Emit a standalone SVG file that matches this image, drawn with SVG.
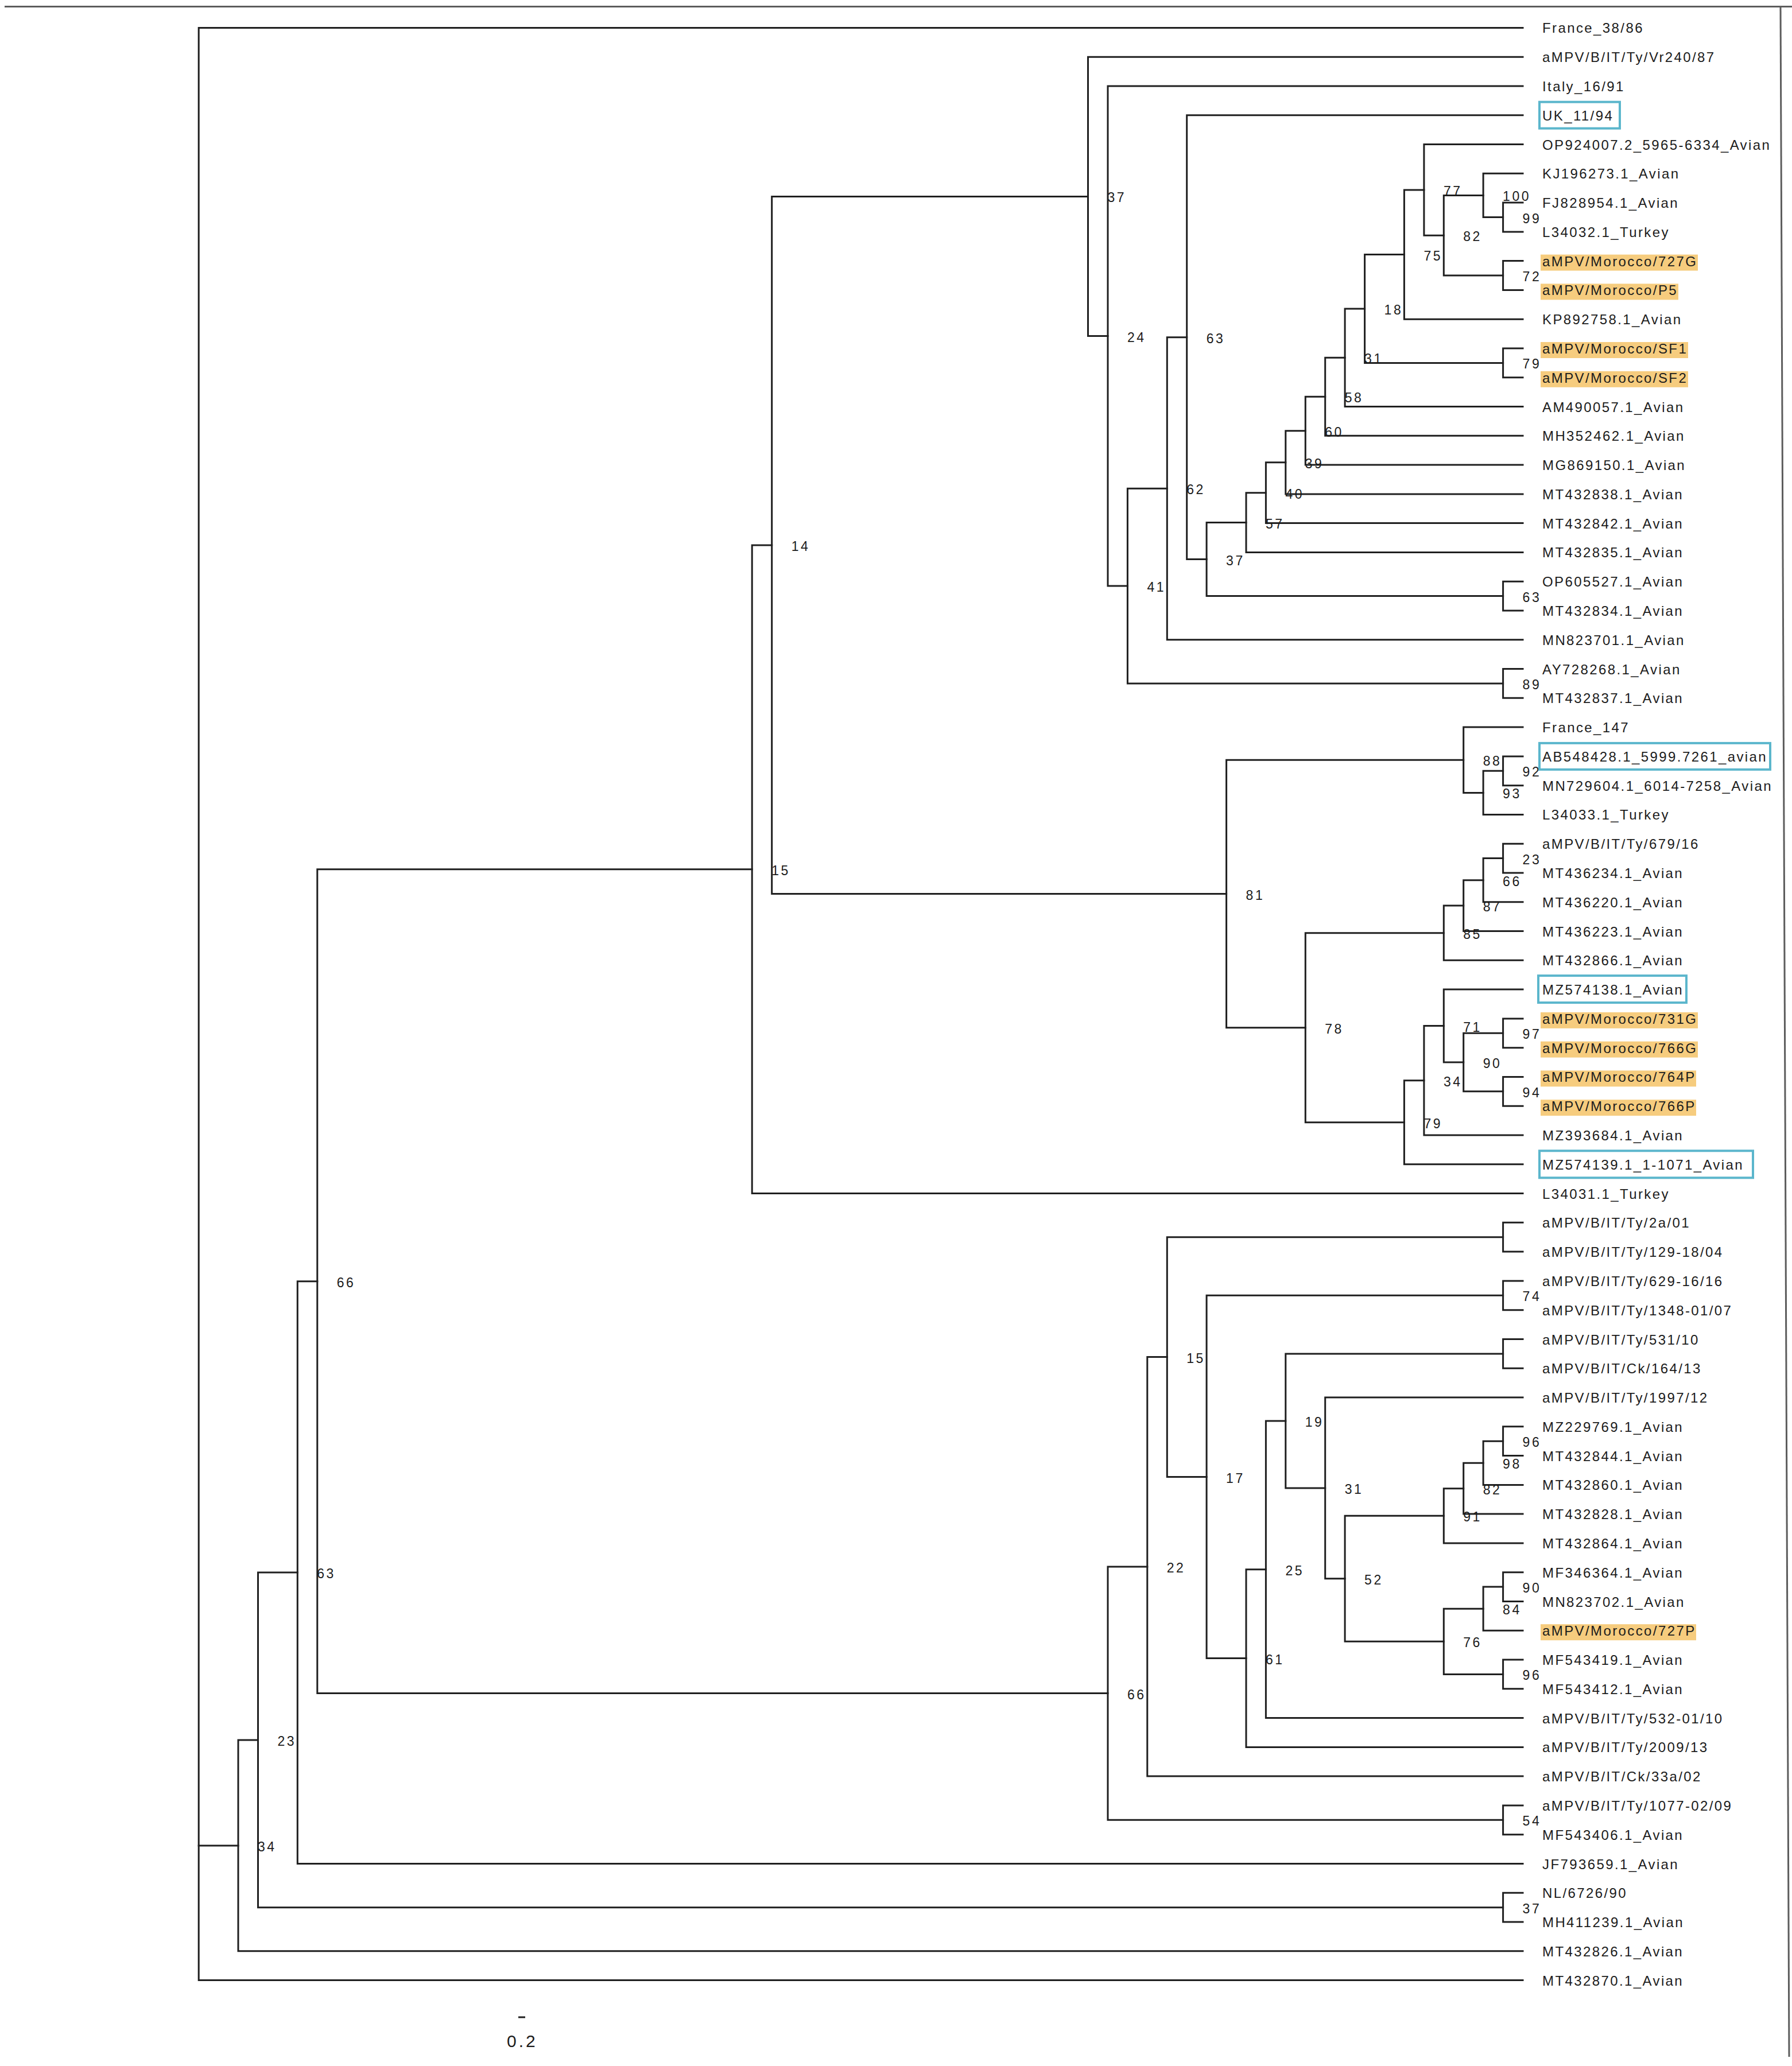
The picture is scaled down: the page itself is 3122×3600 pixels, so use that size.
<svg xmlns="http://www.w3.org/2000/svg" width="3122" height="3600" viewBox="0 0 3122 3600">
<style>
.br{fill:none;stroke:#1f1f1f;stroke-width:3;stroke-linecap:square}
.fr{fill:none;stroke:#5c5c5c;stroke-width:3}
text{font-family:"Liberation Sans",Arial,Helvetica,sans-serif;fill:#1c1c1c}
.lf{font-size:24px;letter-spacing:2.4px}
.bs{font-size:23px;letter-spacing:3.5px}
.hl{fill:#F6CC7E}
.bx{fill:none;stroke:#5BB6CC;stroke-width:4}
.sc{font-size:30px;letter-spacing:4px}
</style>
<rect width="3122" height="3600" fill="#ffffff"/>
<g id="frame">
<line class="fr" x1="8" y1="11.5" x2="3122" y2="11.5"/>
<line class="fr" x1="3102" y1="11.5" x2="3117" y2="3584" stroke-width="2.5"/>
</g>
<g id="branches">
<path class="br" d="M2653 353.1H2618.6V403.9H2653"/>
<path class="br" d="M2653 302.3H2584.1V378.5H2618.6"/>
<path class="br" d="M2653 454.6H2618.6V505.4H2653"/>
<path class="br" d="M2584.1 340.4H2515.3V480H2618.6"/>
<path class="br" d="M2653 251.5H2480.9V410.2H2515.3"/>
<path class="br" d="M2480.9 330.9H2446.4V556.2H2653"/>
<path class="br" d="M2653 607H2618.6V657.8H2653"/>
<path class="br" d="M2446.4 443.6H2377.6V632.4H2618.6"/>
<path class="br" d="M2377.6 538H2343.1V708.5H2653"/>
<path class="br" d="M2343.1 623.3H2308.7V759.3H2653"/>
<path class="br" d="M2308.7 691.3H2274.3V810.1H2653"/>
<path class="br" d="M2274.3 750.7H2239.8V860.9H2653"/>
<path class="br" d="M2239.8 805.8H2205.4V911.6H2653"/>
<path class="br" d="M2205.4 858.7H2171V962.4H2653"/>
<path class="br" d="M2653 1013.2H2618.6V1064H2653"/>
<path class="br" d="M2171 910.6H2102.1V1038.6H2618.6"/>
<path class="br" d="M2653 200.7H2067.7V974.6H2102.1"/>
<path class="br" d="M2067.7 587.7H2033.3V1114.8H2653"/>
<path class="br" d="M2653 1165.5H2618.6V1216.3H2653"/>
<path class="br" d="M2033.3 851.2H1964.4V1190.9H2618.6"/>
<path class="br" d="M2653 150H1930V1021.1H1964.4"/>
<path class="br" d="M2653 99.2H1895.5V585.5H1930"/>
<path class="br" d="M2653 1317.9H2618.6V1368.7H2653"/>
<path class="br" d="M2618.6 1343.3H2584.1V1419.4H2653"/>
<path class="br" d="M2653 1267.1H2549.7V1381.4H2584.1"/>
<path class="br" d="M2653 1470.2H2618.6V1521H2653"/>
<path class="br" d="M2618.6 1495.6H2584.1V1571.8H2653"/>
<path class="br" d="M2584.1 1533.7H2549.7V1622.6H2653"/>
<path class="br" d="M2549.7 1578.1H2515.3V1673.3H2653"/>
<path class="br" d="M2653 1774.9H2618.6V1825.7H2653"/>
<path class="br" d="M2653 1876.4H2618.6V1927.2H2653"/>
<path class="br" d="M2618.6 1800.3H2549.7V1901.8H2618.6"/>
<path class="br" d="M2653 1724.1H2515.3V1851.1H2549.7"/>
<path class="br" d="M2515.3 1787.6H2480.9V1978H2653"/>
<path class="br" d="M2480.9 1882.8H2446.4V2028.8H2653"/>
<path class="br" d="M2515.3 1625.7H2274.3V1955.8H2446.4"/>
<path class="br" d="M2549.7 1324.2H2136.6V1790.7H2274.3"/>
<path class="br" d="M1895.5 342.4H1344.7V1557.5H2136.6"/>
<path class="br" d="M1344.7 949.9H1310.2V2079.6H2653"/>
<path class="br" d="M2653 2130.3H2618.6V2181.1H2653"/>
<path class="br" d="M2653 2231.9H2618.6V2282.7H2653"/>
<path class="br" d="M2653 2333.5H2618.6V2384.2H2653"/>
<path class="br" d="M2653 2485.8H2618.6V2536.6H2653"/>
<path class="br" d="M2618.6 2511.2H2584.1V2587.4H2653"/>
<path class="br" d="M2584.1 2549.3H2549.7V2638.1H2653"/>
<path class="br" d="M2549.7 2593.7H2515.3V2688.9H2653"/>
<path class="br" d="M2653 2739.7H2618.6V2790.5H2653"/>
<path class="br" d="M2618.6 2765.1H2584.1V2841.2H2653"/>
<path class="br" d="M2653 2892H2618.6V2942.8H2653"/>
<path class="br" d="M2584.1 2803.2H2515.3V2917.4H2618.6"/>
<path class="br" d="M2515.3 2641.3H2343.1V2860.3H2515.3"/>
<path class="br" d="M2653 2435H2308.7V2750.8H2343.1"/>
<path class="br" d="M2618.6 2358.9H2239.8V2592.9H2308.7"/>
<path class="br" d="M2239.8 2475.9H2205.4V2993.6H2653"/>
<path class="br" d="M2205.4 2734.8H2171V3044.4H2653"/>
<path class="br" d="M2618.6 2257.3H2102.1V2889.6H2171"/>
<path class="br" d="M2618.6 2155.7H2033.3V2573.5H2102.1"/>
<path class="br" d="M2033.3 2364.6H1998.8V3095.1H2653"/>
<path class="br" d="M2653 3145.9H2618.6V3196.7H2653"/>
<path class="br" d="M1998.8 2729.9H1930V3171.3H2618.6"/>
<path class="br" d="M1310.2 1514.8H552.8V2950.6H1930"/>
<path class="br" d="M552.8 2232.7H518.3V3247.5H2653"/>
<path class="br" d="M2653 3298.3H2618.6V3349H2653"/>
<path class="br" d="M518.3 2740.1H449.5V3323.7H2618.6"/>
<path class="br" d="M449.5 3031.9H415V3399.8H2653"/>
<path class="br" d="M2653 48.4H346.2V3450.6H2653"/>
<path class="br" d="M346.2 3215.9H415"/>
</g>
<g id="support-values" class="bs">
<g id="n37a"><text x="1929.5" y="352.4">37</text></g>
<g id="n24a"><text x="1964" y="595.5">24</text></g>
<g id="n41"><text x="1998.4" y="1031.1">41</text></g>
<g id="n62"><text x="2067.3" y="861.2">62</text></g>
<g id="n63a"><text x="2101.7" y="597.7">63</text></g>
<g id="n37b"><text x="2136.1" y="984.6">37</text></g>
<g id="n57"><text x="2205" y="920.6">57</text></g>
<g id="n40"><text x="2239.4" y="868.7">40</text></g>
<g id="n39"><text x="2273.8" y="815.8">39</text></g>
<g id="n60"><text x="2308.3" y="760.7">60</text></g>
<g id="n58"><text x="2342.7" y="701.3">58</text></g>
<g id="n31a"><text x="2377.1" y="633.3">31</text></g>
<g id="n18"><text x="2411.6" y="548">18</text></g>
<g id="n75"><text x="2480.4" y="453.6">75</text></g>
<g id="n77"><text x="2514.9" y="340.9">77</text></g>
<g id="n82a"><text x="2549.3" y="420.2">82</text></g>
<g id="n100"><text x="2618.1" y="350.4">100</text></g>
<g id="n99"><text x="2652.6" y="388.5">99</text></g>
<g id="n72"><text x="2652.6" y="490">72</text></g>
<g id="n79a"><text x="2652.6" y="642.4">79</text></g>
<g id="n63b"><text x="2652.6" y="1048.6">63</text></g>
<g id="n89"><text x="2652.6" y="1200.9">89</text></g>
<g id="n14"><text x="1378.7" y="959.9">14</text></g>
<g id="n15a"><text x="1344.2" y="1524.8">15</text></g>
<g id="n81"><text x="2170.6" y="1567.5">81</text></g>
<g id="n88"><text x="2583.7" y="1334.2">88</text></g>
<g id="n93"><text x="2618.1" y="1391.4">93</text></g>
<g id="n92"><text x="2652.6" y="1353.3">92</text></g>
<g id="n78"><text x="2308.3" y="1800.7">78</text></g>
<g id="n85"><text x="2549.3" y="1635.7">85</text></g>
<g id="n87"><text x="2583.7" y="1588.1">87</text></g>
<g id="n66a"><text x="2618.1" y="1543.7">66</text></g>
<g id="n23a"><text x="2652.6" y="1505.6">23</text></g>
<g id="n79b"><text x="2480.4" y="1965.8">79</text></g>
<g id="n34a"><text x="2514.9" y="1892.8">34</text></g>
<g id="n71"><text x="2549.3" y="1797.6">71</text></g>
<g id="n90a"><text x="2583.7" y="1861.1">90</text></g>
<g id="n97"><text x="2652.6" y="1810.3">97</text></g>
<g id="n94"><text x="2652.6" y="1911.8">94</text></g>
<g id="n66b"><text x="586.8" y="2242.7">66</text></g>
<g id="n63c"><text x="552.3" y="2750.1">63</text></g>
<g id="n23b"><text x="483.5" y="3041.9">23</text></g>
<g id="n34b"><text x="449" y="3225.9">34</text></g>
<g id="n66c"><text x="1964" y="2960.6">66</text></g>
<g id="n22"><text x="2032.8" y="2739.9">22</text></g>
<g id="n15b"><text x="2067.3" y="2374.6">15</text></g>
<g id="n17"><text x="2136.1" y="2583.5">17</text></g>
<g id="n74"><text x="2652.6" y="2267.3">74</text></g>
<g id="n61"><text x="2205" y="2899.6">61</text></g>
<g id="n25"><text x="2239.4" y="2744.8">25</text></g>
<g id="n19"><text x="2273.8" y="2485.9">19</text></g>
<g id="n31b"><text x="2342.7" y="2602.9">31</text></g>
<g id="n52"><text x="2377.1" y="2760.8">52</text></g>
<g id="n91"><text x="2549.3" y="2651.3">91</text></g>
<g id="n82b"><text x="2583.7" y="2603.7">82</text></g>
<g id="n98"><text x="2618.1" y="2559.3">98</text></g>
<g id="n96a"><text x="2652.6" y="2521.2">96</text></g>
<g id="n76"><text x="2549.3" y="2870.3">76</text></g>
<g id="n84"><text x="2618.1" y="2813.2">84</text></g>
<g id="n90b"><text x="2652.6" y="2775.1">90</text></g>
<g id="n96b"><text x="2652.6" y="2927.4">96</text></g>
<g id="n54"><text x="2652.6" y="3181.3">54</text></g>
<g id="n37c"><text x="2652.6" y="3333.7">37</text></g>
</g>
<g id="leaves" class="lf">
<g id="leaf1"><text x="2687" y="57.4">France_38/86</text></g>
<g id="leaf2"><text x="2687" y="108.2">aMPV/B/IT/Ty/Vr240/87</text></g>
<g id="leaf3"><text x="2687" y="159">Italy_16/91</text></g>
<g id="leaf4"><rect class="bx" x="2682" y="177.7" width="140" height="46"/><text x="2687" y="209.7">UK_11/94</text></g>
<g id="leaf5"><text x="2687" y="260.5">OP924007.2_5965-6334_Avian</text></g>
<g id="leaf6"><text x="2687" y="311.3">KJ196273.1_Avian</text></g>
<g id="leaf7"><text x="2687" y="362.1">FJ828954.1_Avian</text></g>
<g id="leaf8"><text x="2687" y="412.9">L34032.1_Turkey</text></g>
<g id="leaf9"><rect class="hl" x="2684" y="443.6" width="274" height="28"/><text x="2687" y="463.6">aMPV/Morocco/727G</text></g>
<g id="leaf10"><rect class="hl" x="2684" y="494.4" width="240" height="28"/><text x="2687" y="514.4">aMPV/Morocco/P5</text></g>
<g id="leaf11"><text x="2687" y="565.2">KP892758.1_Avian</text></g>
<g id="leaf12"><rect class="hl" x="2684" y="596" width="257" height="28"/><text x="2687" y="616">aMPV/Morocco/SF1</text></g>
<g id="leaf13"><rect class="hl" x="2684" y="646.8" width="257" height="28"/><text x="2687" y="666.8">aMPV/Morocco/SF2</text></g>
<g id="leaf14"><text x="2687" y="717.5">AM490057.1_Avian</text></g>
<g id="leaf15"><text x="2687" y="768.3">MH352462.1_Avian</text></g>
<g id="leaf16"><text x="2687" y="819.1">MG869150.1_Avian</text></g>
<g id="leaf17"><text x="2687" y="869.9">MT432838.1_Avian</text></g>
<g id="leaf18"><text x="2687" y="920.6">MT432842.1_Avian</text></g>
<g id="leaf19"><text x="2687" y="971.4">MT432835.1_Avian</text></g>
<g id="leaf20"><text x="2687" y="1022.2">OP605527.1_Avian</text></g>
<g id="leaf21"><text x="2687" y="1073">MT432834.1_Avian</text></g>
<g id="leaf22"><text x="2687" y="1123.8">MN823701.1_Avian</text></g>
<g id="leaf23"><text x="2687" y="1174.5">AY728268.1_Avian</text></g>
<g id="leaf24"><text x="2687" y="1225.3">MT432837.1_Avian</text></g>
<g id="leaf25"><text x="2687" y="1276.1">France_147</text></g>
<g id="leaf26"><rect class="bx" x="2682" y="1294.9" width="402" height="46"/><text x="2687" y="1326.9">AB548428.1_5999.7261_avian</text></g>
<g id="leaf27"><text x="2687" y="1377.7">MN729604.1_6014-7258_Avian</text></g>
<g id="leaf28"><text x="2687" y="1428.4">L34033.1_Turkey</text></g>
<g id="leaf29"><text x="2687" y="1479.2">aMPV/B/IT/Ty/679/16</text></g>
<g id="leaf30"><text x="2687" y="1530">MT436234.1_Avian</text></g>
<g id="leaf31"><text x="2687" y="1580.8">MT436220.1_Avian</text></g>
<g id="leaf32"><text x="2687" y="1631.6">MT436223.1_Avian</text></g>
<g id="leaf33"><text x="2687" y="1682.3">MT432866.1_Avian</text></g>
<g id="leaf34"><rect class="bx" x="2680" y="1700.1" width="258" height="47"/><text x="2687" y="1733.1">MZ574138.1_Avian</text></g>
<g id="leaf35"><rect class="hl" x="2684" y="1763.9" width="274" height="28"/><text x="2687" y="1783.9">aMPV/Morocco/731G</text></g>
<g id="leaf36"><rect class="hl" x="2684" y="1814.7" width="274" height="28"/><text x="2687" y="1834.7">aMPV/Morocco/766G</text></g>
<g id="leaf37"><rect class="hl" x="2684" y="1865.4" width="271" height="28"/><text x="2687" y="1885.4">aMPV/Morocco/764P</text></g>
<g id="leaf38"><rect class="hl" x="2684" y="1916.2" width="271" height="28"/><text x="2687" y="1936.2">aMPV/Morocco/766P</text></g>
<g id="leaf39"><text x="2687" y="1987">MZ393684.1_Avian</text></g>
<g id="leaf40"><rect class="bx" x="2682" y="2005.3" width="372" height="47"/><text x="2687" y="2037.8">MZ574139.1_1-1071_Avian</text></g>
<g id="leaf41"><text x="2687" y="2088.6">L34031.1_Turkey</text></g>
<g id="leaf42"><text x="2687" y="2139.3">aMPV/B/IT/Ty/2a/01</text></g>
<g id="leaf43"><text x="2687" y="2190.1">aMPV/B/IT/Ty/129-18/04</text></g>
<g id="leaf44"><text x="2687" y="2240.9">aMPV/B/IT/Ty/629-16/16</text></g>
<g id="leaf45"><text x="2687" y="2291.7">aMPV/B/IT/Ty/1348-01/07</text></g>
<g id="leaf46"><text x="2687" y="2342.5">aMPV/B/IT/Ty/531/10</text></g>
<g id="leaf47"><text x="2687" y="2393.2">aMPV/B/IT/Ck/164/13</text></g>
<g id="leaf48"><text x="2687" y="2444">aMPV/B/IT/Ty/1997/12</text></g>
<g id="leaf49"><text x="2687" y="2494.8">MZ229769.1_Avian</text></g>
<g id="leaf50"><text x="2687" y="2545.6">MT432844.1_Avian</text></g>
<g id="leaf51"><text x="2687" y="2596.4">MT432860.1_Avian</text></g>
<g id="leaf52"><text x="2687" y="2647.1">MT432828.1_Avian</text></g>
<g id="leaf53"><text x="2687" y="2697.9">MT432864.1_Avian</text></g>
<g id="leaf54"><text x="2687" y="2748.7">MF346364.1_Avian</text></g>
<g id="leaf55"><text x="2687" y="2799.5">MN823702.1_Avian</text></g>
<g id="leaf56"><rect class="hl" x="2684" y="2830.2" width="271" height="28"/><text x="2687" y="2850.2">aMPV/Morocco/727P</text></g>
<g id="leaf57"><text x="2687" y="2901">MF543419.1_Avian</text></g>
<g id="leaf58"><text x="2687" y="2951.8">MF543412.1_Avian</text></g>
<g id="leaf59"><text x="2687" y="3002.6">aMPV/B/IT/Ty/532-01/10</text></g>
<g id="leaf60"><text x="2687" y="3053.4">aMPV/B/IT/Ty/2009/13</text></g>
<g id="leaf61"><text x="2687" y="3104.1">aMPV/B/IT/Ck/33a/02</text></g>
<g id="leaf62"><text x="2687" y="3154.9">aMPV/B/IT/Ty/1077-02/09</text></g>
<g id="leaf63"><text x="2687" y="3205.7">MF543406.1_Avian</text></g>
<g id="leaf64"><text x="2687" y="3256.5">JF793659.1_Avian</text></g>
<g id="leaf65"><text x="2687" y="3307.3">NL/6726/90</text></g>
<g id="leaf66"><text x="2687" y="3358">MH411239.1_Avian</text></g>
<g id="leaf67"><text x="2687" y="3408.8">MT432826.1_Avian</text></g>
<g id="leaf68"><text x="2687" y="3459.6">MT432870.1_Avian</text></g>
</g>
<g id="scale-bar">
<line x1="903" y1="3515" x2="915" y2="3515" stroke="#1f1f1f" stroke-width="3"/>
<text class="sc" x="883" y="3567">0.2</text>
</g>
</svg>
